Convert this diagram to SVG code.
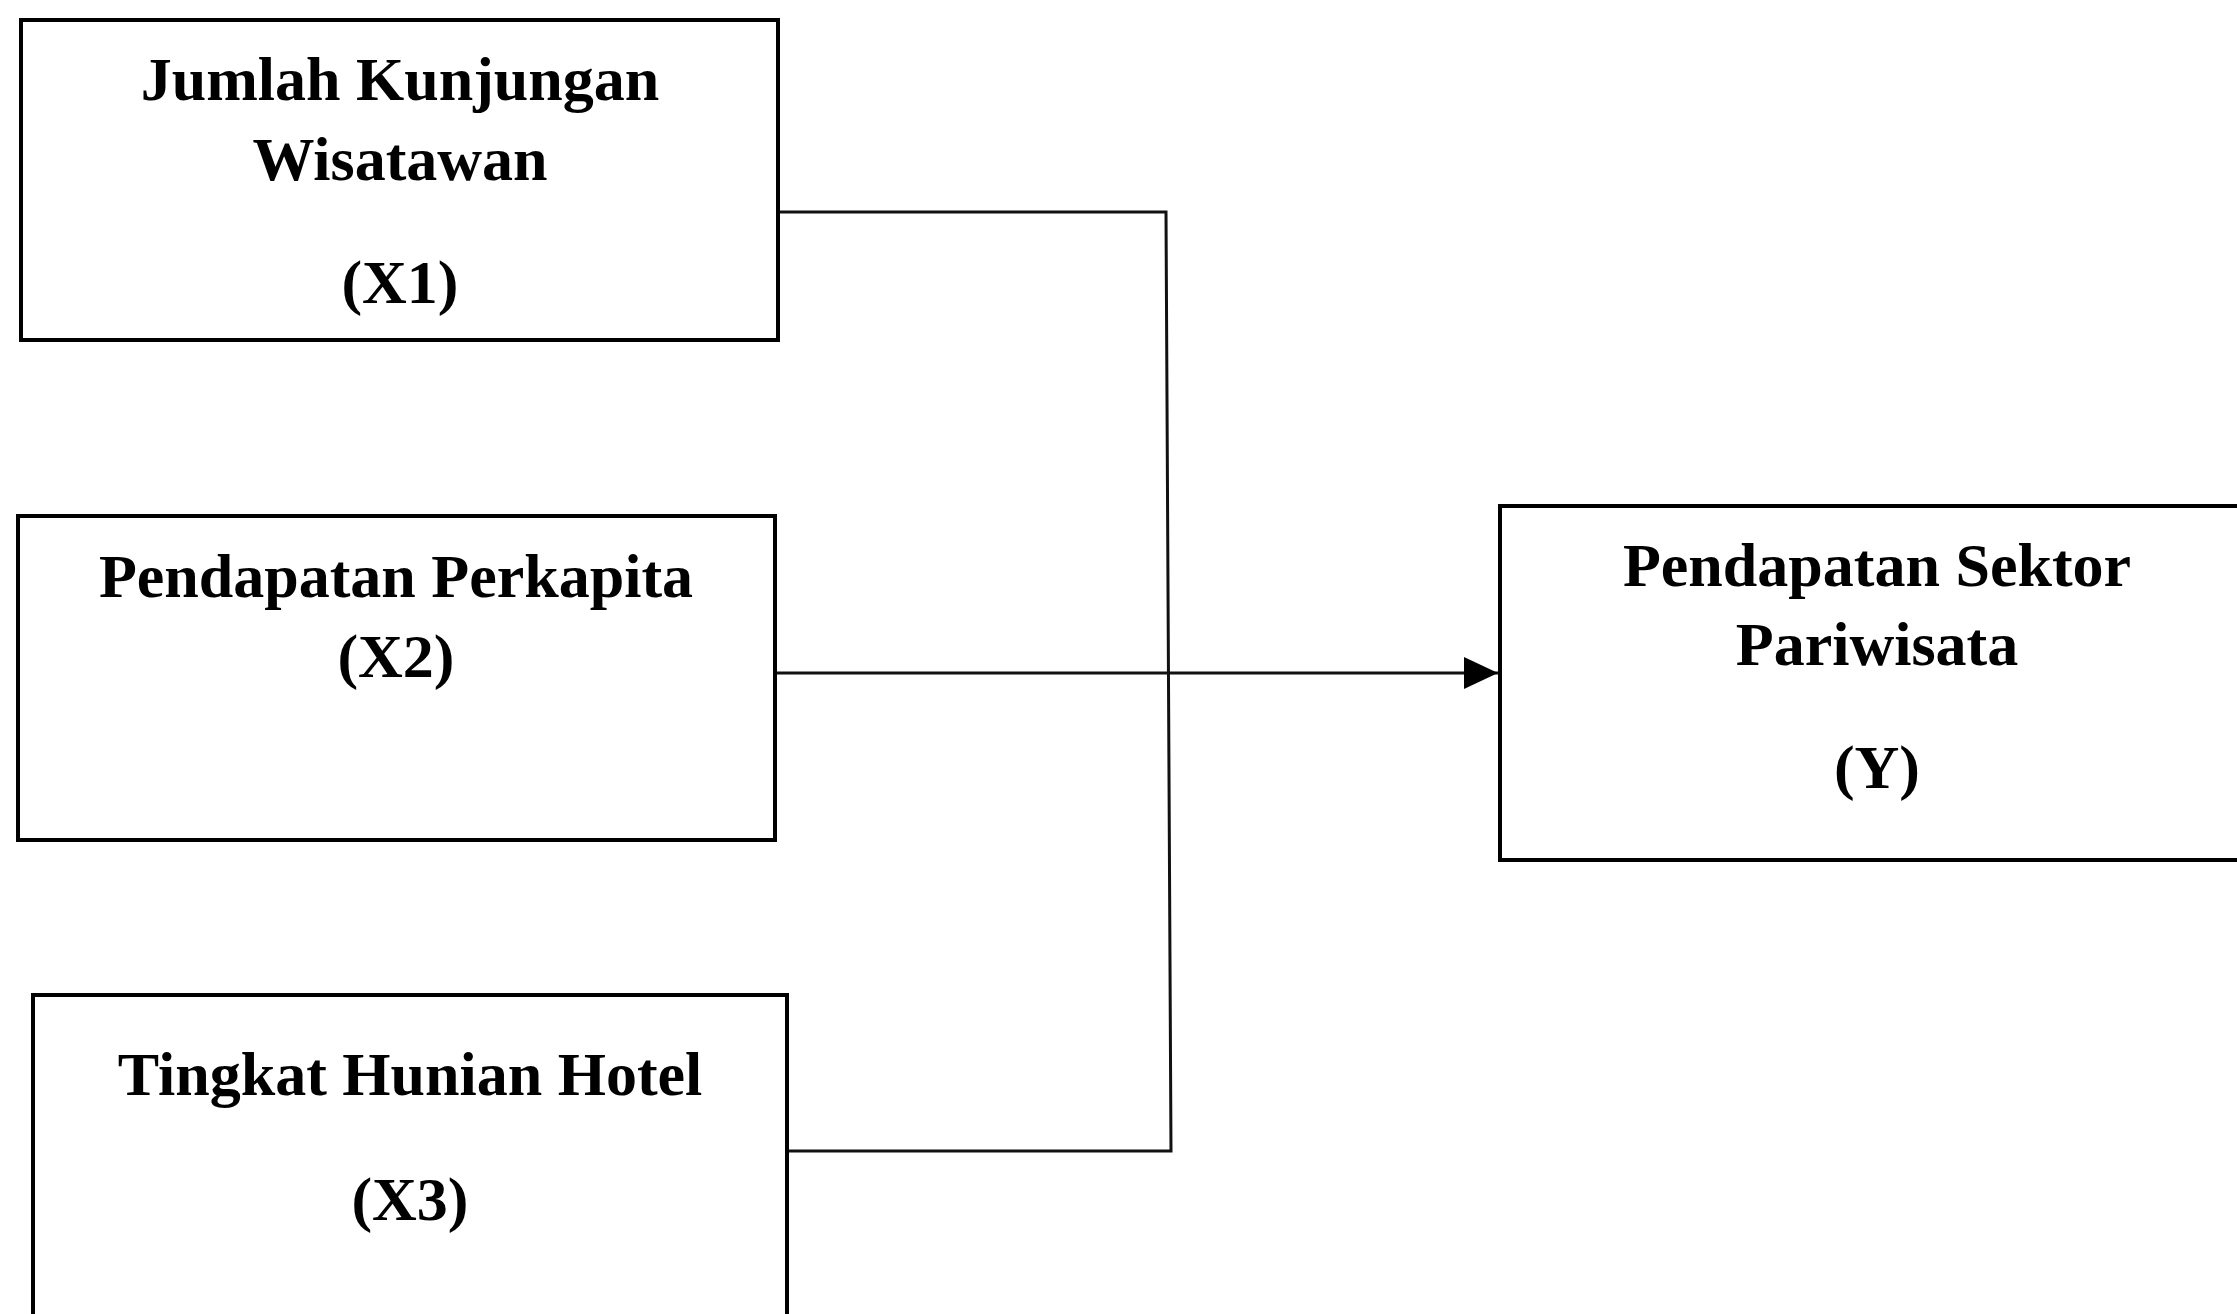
<svg xmlns="http://www.w3.org/2000/svg" width="2237" height="1314" viewBox="0 0 2237 1314">
<style>
.box{fill:#fff;stroke:#000;stroke-width:4}
.t{font-family:"Liberation Serif","Times New Roman",serif;font-weight:bold;font-size:62px;fill:#000;text-anchor:middle}
.c{fill:none;stroke:#111;stroke-width:3}
</style>
<defs>
<marker id="ah" markerUnits="userSpaceOnUse" markerWidth="36" markerHeight="34" refX="34" refY="16" orient="auto">
<path d="M0,0 L34,16 L0,32 Z" fill="#000"/>
</marker>
</defs>
<rect width="2237" height="1314" fill="#fff"/>
<g id="connectors">
<polyline class="c" points="778,212 1166,212 1171,1151 787,1151"/>
<line class="c" x1="775" y1="673" x2="1498" y2="673" marker-end="url(#ah)"/>
</g>
<g id="x1">
<rect class="box" x="21" y="20" width="757" height="320"/>
<text class="t" x="400" y="100">Jumlah Kunjungan</text>
<text class="t" x="400" y="180">Wisatawan</text>
<text class="t" x="400" y="303">(X1)</text>
</g>
<g id="x2">
<rect class="box" x="18" y="516" width="757" height="324"/>
<text class="t" x="396" y="597">Pendapatan Perkapita</text>
<text class="t" x="396" y="677">(X2)</text>
</g>
<g id="x3">
<rect class="box" x="33" y="995" width="754" height="340"/>
<text class="t" x="410" y="1095">Tingkat Hunian Hotel</text>
<text class="t" x="410" y="1220">(X3)</text>
</g>
<g id="y">
<rect class="box" x="1500" y="506" width="760" height="354"/>
<text class="t" x="1877" y="586">Pendapatan Sektor</text>
<text class="t" x="1877" y="665">Pariwisata</text>
<text class="t" x="1877" y="788">(Y)</text>
</g>
</svg>
